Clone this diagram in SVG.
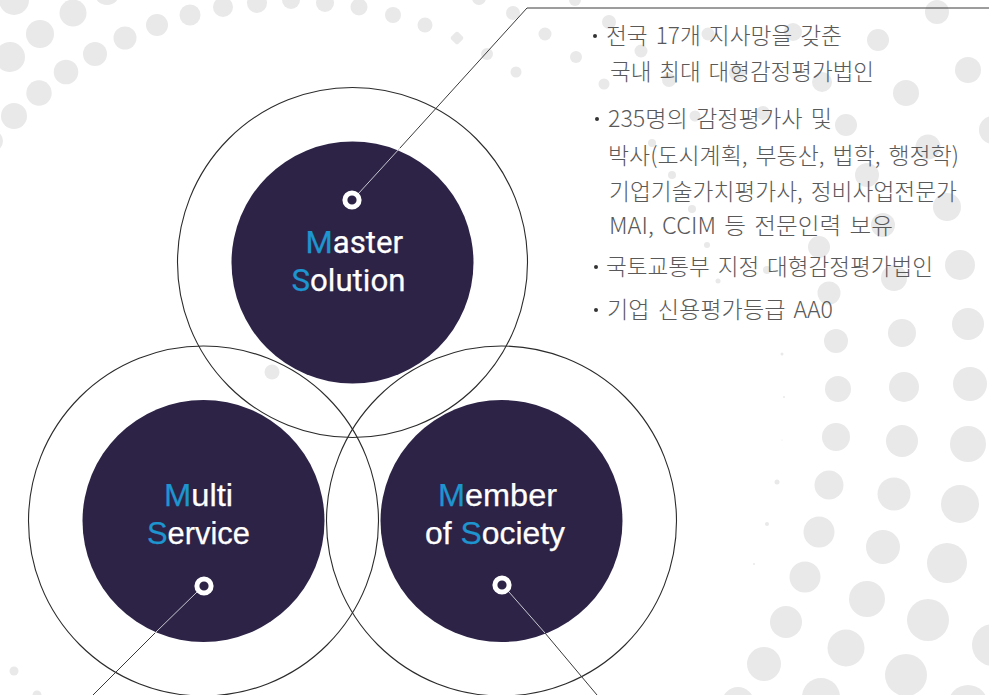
<svg xmlns="http://www.w3.org/2000/svg" width="989" height="695" viewBox="0 0 989 695">
<style>
.d{fill:#e9e9e9}
.o{fill:none;stroke:#2b2b2b;stroke-width:1.1}
.i{fill:#2d2346}
.r{fill:none;stroke:#fff;stroke-width:5}
.l{fill:none;stroke:#3a3a3a;stroke-width:1}
.w{fill:none;stroke:#c8c8d0;stroke-width:1}
.t{font-family:"Liberation Sans",Arial,sans-serif;font-size:32px;fill:#fff;stroke:#fff;stroke-width:.25}
.t2{font-family:Roboto,"Liberation Sans",sans-serif;font-size:31.2px;fill:#fff;stroke:#fff;stroke-width:.25}
tspan.b{fill:#1e95cf;stroke:#1e95cf}
.k{font-family:"Noto Sans CJK KR","Noto Sans",sans-serif;font-weight:300;font-size:23px;word-spacing:3px;fill:#595959}
.p{fill:#333}
</style>
<g id="background-dots">
<circle class="d" cx="14" cy="0" r="15"/><circle class="d" cx="73" cy="13" r="13.5"/><circle class="d" cx="107" cy="-8" r="13"/><circle class="d" cx="40" cy="34" r="14"/><circle class="d" cx="10" cy="57" r="15"/><circle class="d" cx="14" cy="116" r="13"/><circle class="d" cx="39" cy="93" r="12.7"/><circle class="d" cx="66" cy="72" r="12.3"/><circle class="d" cx="95" cy="54" r="12"/><circle class="d" cx="125" cy="38" r="11.5"/><circle class="d" cx="157" cy="25" r="11"/><circle class="d" cx="190" cy="15" r="10.5"/><circle class="d" cx="223" cy="7" r="10"/><circle class="d" cx="257" cy="3" r="10"/><circle class="d" cx="291" cy="0" r="9"/><circle class="d" cx="325" cy="3" r="9"/><circle class="d" cx="359" cy="7" r="8.5"/><circle class="d" cx="393" cy="15" r="8"/><circle class="d" cx="425" cy="25" r="7.5"/><rect class="d" x="452" y="33" width="10" height="10" rx="2" transform="rotate(45 457 38)"/><circle class="d" cx="487" cy="54" r="6"/><circle class="d" cx="-8" cy="141" r="11"/><circle class="d" cx="479" cy="-2" r="7"/>
<circle class="d" cx="272" cy="372" r="7.5"/><circle class="d" cx="14" cy="671" r="4.5"/><circle class="d" cx="37" cy="695" r="4.5"/>
<circle class="d" cx="513" cy="13" r="7"/><circle class="d" cx="575" cy="0" r="6"/><circle class="d" cx="545" cy="34" r="6.5"/><circle class="d" cx="576" cy="57" r="6"/><circle class="d" cx="516" cy="72" r="5.5"/><circle class="d" cx="609" cy="22" r="7"/><circle class="d" cx="641" cy="51" r="6.5"/><circle class="d" cx="604" cy="84" r="5.5"/><circle class="d" cx="669" cy="80" r="7"/><circle class="d" cx="708" cy="34" r="6.5"/><circle class="d" cx="737" cy="73" r="8"/><circle class="d" cx="695" cy="116" r="5.5"/><circle class="d" cx="763" cy="113" r="7"/><circle class="d" cx="793" cy="32" r="9"/><circle class="d" cx="878" cy="40" r="11"/><circle class="d" cx="937" cy="12" r="12"/><circle class="d" cx="968" cy="70" r="13"/><circle class="d" cx="906" cy="93" r="13"/><circle class="d" cx="822" cy="82" r="10"/><circle class="d" cx="846" cy="125" r="11"/><circle class="d" cx="928" cy="147" r="12.5"/><circle class="d" cx="993" cy="130" r="14"/><circle class="d" cx="867" cy="175" r="12"/><circle class="d" cx="947" cy="207" r="14"/><circle class="d" cx="819" cy="247" r="11"/><circle class="d" cx="883" cy="225" r="12"/><circle class="d" cx="960" cy="265" r="15"/><circle class="d" cx="894" cy="278" r="13"/><circle class="d" cx="829" cy="293" r="11.5"/>
<circle class="d" cx="652" cy="143" r="4"/><circle class="d" cx="672" cy="175" r="4"/><circle class="d" cx="692" cy="209" r="4"/><circle class="d" cx="707" cy="245" r="3"/><circle class="d" cx="718" cy="281" r="2.5"/><circle class="d" cx="767" cy="270" r="4"/>
<circle class="d" cx="836" cy="341" r="12"/><circle class="d" cx="902" cy="333" r="14"/><circle class="d" cx="968" cy="324" r="16"/><circle class="d" cx="838" cy="389" r="13"/><circle class="d" cx="904" cy="387" r="15"/><circle class="d" cx="970" cy="384" r="17"/><circle class="d" cx="836" cy="437" r="14"/><circle class="d" cx="902" cy="441" r="16"/><circle class="d" cx="968" cy="444" r="18"/><circle class="d" cx="829" cy="485" r="14.5"/><circle class="d" cx="894" cy="494" r="16.5"/><circle class="d" cx="960" cy="504" r="19"/><circle class="d" cx="819" cy="532" r="15.5"/><circle class="d" cx="883" cy="547" r="17"/><circle class="d" cx="947" cy="563" r="20"/><circle class="d" cx="805" cy="577" r="15.5"/><circle class="d" cx="867" cy="599" r="18"/><circle class="d" cx="928" cy="620" r="21"/><circle class="d" cx="786" cy="622" r="16"/><circle class="d" cx="846" cy="648" r="18.5"/><circle class="d" cx="906" cy="675" r="21"/><circle class="d" cx="993" cy="645" r="21"/><circle class="d" cx="764" cy="664" r="17"/><circle class="d" cx="821" cy="697" r="19"/><circle class="d" cx="738" cy="703" r="16"/><circle class="d" cx="968" cy="705" r="20"/>
<circle class="d" cx="782" cy="354" r="1.5"/><circle class="d" cx="784" cy="397" r="1"/><circle class="d" cx="782" cy="440" r=".6"/><circle class="d" cx="777" cy="482" r="2.5"/><circle class="d" cx="767" cy="524" r="2"/><circle class="d" cx="754" cy="564" r="1"/>
</g>
<g id="node-master">
<circle class="o" cx="352.5" cy="262.5" r="175"/>
<circle class="i" cx="352.5" cy="262.5" r="121"/>
<text class="t2" x="305.5" y="253"><tspan class="b">M</tspan>aster</text>
<text class="t2" x="291.5" y="291"><tspan class="b">S</tspan>olution</text>
</g>
<g id="node-multi">
<circle class="o" cx="203.5" cy="521" r="175"/>
<circle class="i" cx="203.5" cy="521" r="121"/>
<text class="t" x="164" y="506" textLength="69" lengthAdjust="spacingAndGlyphs"><tspan class="b">M</tspan>ulti</text>
<text class="t" x="147" y="544" textLength="103" lengthAdjust="spacingAndGlyphs"><tspan class="b">S</tspan>ervice</text>
</g>
<g id="node-member">
<circle class="o" cx="501.5" cy="521" r="175"/>
<circle class="i" cx="501.5" cy="521" r="121"/>
<text class="t" x="438" y="506" textLength="119" lengthAdjust="spacingAndGlyphs"><tspan class="b">M</tspan>ember</text>
<text class="t" x="425" y="544" textLength="140" lengthAdjust="spacingAndGlyphs">of <tspan class="b">S</tspan>ociety</text>
</g>
<g id="connectors">
<path class="l" d="M989 8H527L400 148"/>
<path class="w" d="M400 148L358 194"/>
<path class="w" d="M197 592L155 633"/>
<path class="l" d="M155 633L93 695"/>
<path class="w" d="M509 592L545 633"/>
<path class="l" d="M545 633L597 695"/>
<circle class="r" cx="352" cy="200" r="7.1"/>
<circle class="r" cx="204" cy="586" r="7.1"/>
<circle class="r" cx="502" cy="585" r="7.1"/>
</g>
<g id="description">
<circle class="p" cx="595" cy="36" r="2"/><circle class="p" cx="597" cy="119" r="2"/><circle class="p" cx="596" cy="267" r="2"/><circle class="p" cx="596" cy="310" r="2"/>
<text class="k" x="606" y="44" textLength="236" lengthAdjust="spacingAndGlyphs">전국 17개 지사망을 갖춘</text>
<text class="k" x="610" y="80" textLength="264" lengthAdjust="spacingAndGlyphs">국내 최대 대형감정평가법인</text>
<text class="k" x="608" y="127" textLength="224" lengthAdjust="spacingAndGlyphs">235명의 감정평가사 및</text>
<text class="k" x="608" y="164" textLength="351" lengthAdjust="spacingAndGlyphs">박사(도시계획, 부동산, 법학, 행정학)</text>
<text class="k" x="609" y="200" textLength="348" lengthAdjust="spacingAndGlyphs">기업기술가치평가사, 정비사업전문가</text>
<text class="k" x="609" y="234" textLength="284" lengthAdjust="spacingAndGlyphs">MAI, CCIM 등 전문인력 보유</text>
<text class="k" x="606" y="275" textLength="327" lengthAdjust="spacingAndGlyphs">국토교통부 지정 대형감정평가법인</text>
<text class="k" x="607" y="318" textLength="226" lengthAdjust="spacingAndGlyphs">기업 신용평가등급 AA0</text>
</g>
</svg>
